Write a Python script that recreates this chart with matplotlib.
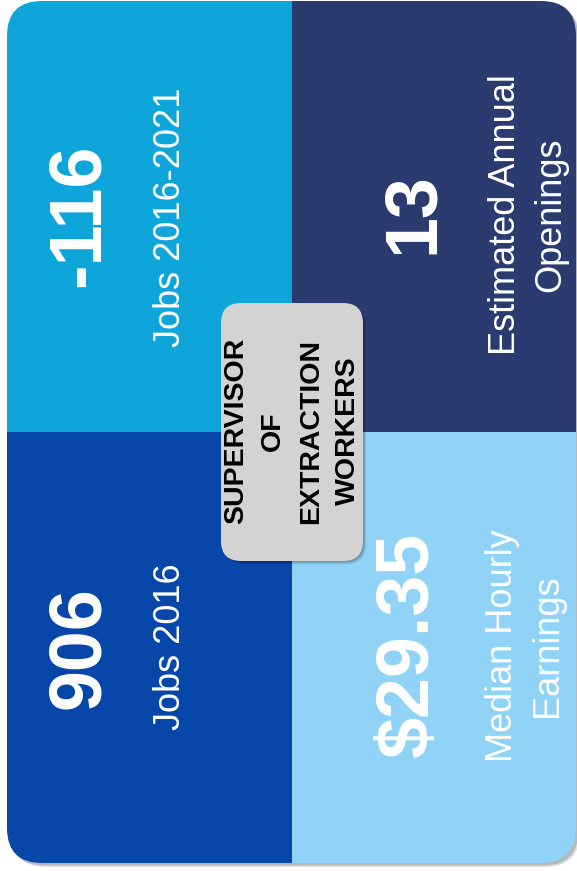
"""Occupation summary card: four stat tiles around a central title badge."""

import matplotlib.pyplot as plt
from matplotlib.patches import FancyBboxPatch, Rectangle

W, H = 577, 871

# data
occupation = ["SUPERVISOR", "OF", "EXTRACTION", "WORKERS"]
stat_values = ["-116", "13", "906", "$29.35"]
stat_labels = [["Jobs 2016-2021"],
               ["Estimated Annual", "Openings"],
               ["Jobs 2016"],
               ["Median Hourly", "Earnings"]]

# layout (pixel coords, y down)
tile_colors = ["#0EA5DA", "#2B3B70", "#0747AA", "#90D3F7"]
tile_boxes = [(7, 1, 285, 431), (292, 1, 285, 431),
              (7, 432, 285, 431), (292, 432, 285, 431)]
value_pos = [(79, 215), (413, 213), (79, 648), (408, 644)]
label_pos = [(170, 217), (528, 215), (170, 647), (525, 646)]
LINE_GAP = 45

fig = plt.figure(figsize=(W / 100, H / 100), dpi=100)
ax = fig.add_axes([0, 0, 1, 1])
ax.set_xlim(0, W)
ax.set_ylim(H, 0)
ax.axis("off")

# card shadow + card
for off, a in [(4, 0.12), (2.5, 0.18)]:
    ax.add_patch(FancyBboxPatch((7 + off, 1 + off), 569, 862,
                                boxstyle="round,pad=0,rounding_size=35",
                                fc="black", ec="none", alpha=a))
card = FancyBboxPatch((7, 1), 569, 862, boxstyle="round,pad=0,rounding_size=35",
                      fc="none", ec="none")
ax.add_patch(card)
for (x, y, w, h), c in zip(tile_boxes, tile_colors):
    r = Rectangle((x, y), w, h, fc=c, ec="none")
    ax.add_patch(r)
    r.set_clip_path(card)

font = ["Liberation Sans", "DejaVu Sans"]
for val, (x, y) in zip(stat_values, value_pos):
    ax.text(x, y, val, rotation=90, rotation_mode="anchor", ha="center",
            va="center", color="white", fontsize=53, fontweight="bold", family=font)

for lines, (x, y) in zip(stat_labels, label_pos):
    n = len(lines)
    for i, line in enumerate(lines):
        lx = x + (i - (n - 1) / 2) * LINE_GAP
        ax.text(lx, y, line, rotation=90, rotation_mode="anchor", ha="center",
                va="center", color="white", fontsize=26, family=font)

# central badge
for off, a in [(3, 0.12), (1.5, 0.18)]:
    ax.add_patch(FancyBboxPatch((221 + off, 303 + off), 142, 258,
                                boxstyle="round,pad=0,rounding_size=20",
                                fc="black", ec="none", alpha=a))
ax.add_patch(FancyBboxPatch((221, 303), 142, 258,
                            boxstyle="round,pad=0,rounding_size=20",
                            fc="#D3D3D3", ec="none"))
n = len(occupation)
for i, line in enumerate(occupation):
    lx = 292 + (i - (n - 1) / 2) * 37.5
    ax.text(lx, 431, line, rotation=90, rotation_mode="anchor", ha="center",
            va="center", color="black", fontsize=20.5, fontweight="bold",
            family=font)

fig.savefig("out.png", dpi=100)
